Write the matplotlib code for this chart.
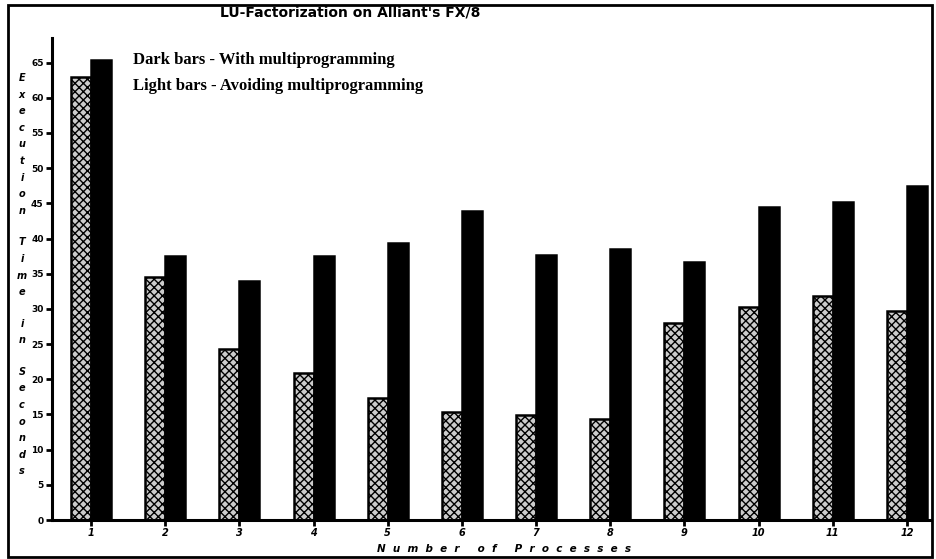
import matplotlib
matplotlib.use("Agg")
import matplotlib.pyplot as plt
from matplotlib.patches import Rectangle
import numpy as np

processors = [1, 2, 3, 4, 5, 6, 7, 8, 9, 10, 11, 12]
light_vals = [62.9, 34.6, 24.3, 20.9, 17.3, 15.4, 14.9, 14.4, 28.0, 30.3, 31.9, 29.7]
dark_vals = [65.4, 37.5, 34.0, 37.5, 39.3, 43.9, 37.7, 38.5, 36.7, 44.5, 45.2, 47.4]
y_ticks = [0, 5, 10, 15, 20, 25, 30, 35, 40, 45, 50, 55, 60, 65]
title = "LU-Factorization on Alliant's FX/8"
legend_dark = "Dark bars - With multiprogramming"
legend_light = "Light bars - Avoiding multiprogramming"
xlabel = "Number of Processes"
ylabel_words = ["Execution", "Time", "in", "Seconds"]

W, H = 936, 559
fig = plt.figure(figsize=(W / 100, H / 100), dpi=100)
ax = fig.add_axes([52 / W, 1 - 520 / H, (930 - 52) / W, (520 - 38) / H])

w = 0.27
x = np.array(processors, dtype=float)
ax.bar(x - w / 2, light_vals, width=w, facecolor="#cccccc", edgecolor="black",
       hatch="xxxx", linewidth=1.8)
ax.bar(x + w / 2, dark_vals, width=w, facecolor="black", edgecolor="black",
       linewidth=1.8)

ax.set_xlim(0.474, 12.31)
ax.set_ylim(0, 68.5)
for s in ["top", "right"]:
    ax.spines[s].set_visible(False)
for s in ["left", "bottom"]:
    ax.spines[s].set_linewidth(2.2)

ax.set_xticks(processors)
ax.set_xticklabels([str(p) for p in processors], fontsize=7, fontweight="bold",
                   fontstyle="italic")
ax.set_yticks(y_ticks)
ax.set_yticklabels([str(v) for v in y_ticks], fontsize=6.5, fontweight="bold")
ax.tick_params(axis="both", direction="out", length=4, width=2, pad=2)

# frame around whole figure
fig.patches.append(Rectangle((8 / W, 1 - 557 / H), (932 - 8) / W, (557 - 5) / H,
                             transform=fig.transFigure, fill=False,
                             edgecolor="black", linewidth=2))

fig.text(350 / W, 1 - 13 / H, title, ha="center", va="center", fontsize=10,
         fontweight="heavy", family=["DejaVu Sans"])

fig.text(133 / W, 1 - 60 / H, legend_dark, ha="left", va="center", fontsize=12,
         fontweight="bold", family=["Liberation Serif", "DejaVu Serif"])
fig.text(133 / W, 1 - 86 / H, legend_light, ha="left", va="center", fontsize=12,
         fontweight="bold", family=["Liberation Serif", "DejaVu Serif"])

fig.text(504 / W, 1 - 549 / H, "     ".join("  ".join(wd) for wd in xlabel.split()),
         ha="center", va="center", fontsize=7.5, fontweight="bold", fontstyle="italic")

# stacked vertical y-label letters
y = 78
step = 16.6
for wd in ylabel_words:
    for ch in wd:
        fig.text(22 / W, 1 - y / H, ch, ha="center", va="center", fontsize=7,
                 fontweight="bold", fontstyle="italic")
        y += step
    y += step * 0.9

fig.savefig("out.png", dpi=100)
